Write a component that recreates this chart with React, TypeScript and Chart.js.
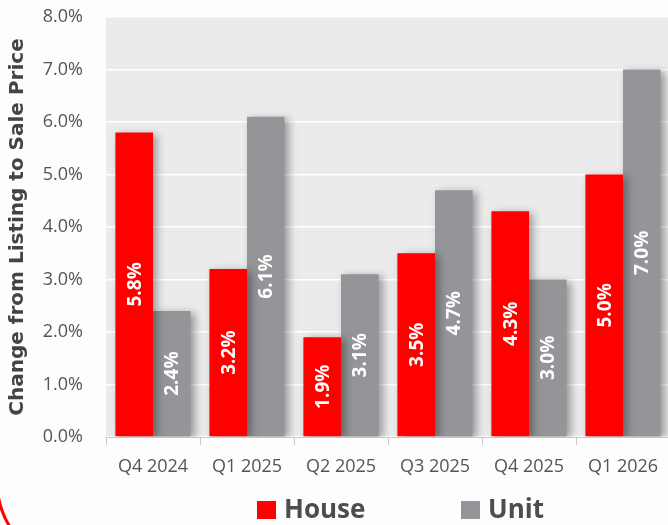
import React, { useEffect, useRef } from "react";
import { Chart, registerables } from "chart.js";

Chart.register(...registerables);

const categories = ["Q4 2024", "Q1 2025", "Q2 2025", "Q3 2025", "Q4 2025", "Q1 2026"];
const houseValues = [5.8, 3.2, 1.9, 3.5, 4.3, 5.0];
const unitValues = [2.4, 6.1, 3.1, 4.7, 3.0, 7.0];
const seriesNames = ["House", "Unit"];
const seriesColors = ["#ff0000", "#939598"];
const yTicks = [0, 1, 2, 3, 4, 5, 6, 7, 8];
const yTitle = "Change from Listing to Sale Price";

const FONT = "'Open Sans', 'DejaVu Sans', sans-serif";
const TITLE_FONT = "'DejaVu Sans', 'Open Sans', sans-serif";

const bgPlugin = {
  id: "plotBg",
  beforeDraw(chart: any) {
    const { ctx, chartArea } = chart;
    ctx.save();
    ctx.fillStyle = "#ebebeb";
    ctx.fillRect(chartArea.left, chartArea.top, chartArea.right - chartArea.left, chartArea.bottom - chartArea.top);
    ctx.restore();
  },
};

const shadowPlugin = {
  id: "barShadow",
  beforeDatasetsDraw(chart: any) {
    const ctx = chart.ctx;
    ctx.save();
    ctx.shadowColor = "rgba(0,0,0,0.35)";
    ctx.shadowBlur = 8;
    ctx.shadowOffsetX = 4;
    ctx.shadowOffsetY = 2;
  },
  afterDatasetsDraw(chart: any) {
    chart.ctx.restore();
  },
};

const labelPlugin = {
  id: "barLabels",
  afterDatasetsDraw(chart: any) {
    const ctx = chart.ctx;
    ctx.save();
    ctx.fillStyle = "#ffffff";
    ctx.font = `bold 19px ${FONT}`;
    ctx.textAlign = "center";
    ctx.textBaseline = "middle";
    chart.data.datasets.forEach((ds: any, di: number) => {
      const meta = chart.getDatasetMeta(di);
      meta.data.forEach((el: any, i: number) => {
        const v = ds.data[i];
        const cx = el.x;
        const cy = (el.y + el.base) / 2;
        ctx.save();
        ctx.translate(cx, cy);
        ctx.rotate(-Math.PI / 2);
        ctx.fillText(v.toFixed(1) + "%", 0, 1);
        ctx.restore();
      });
    });
    ctx.restore();
  },
};

const legendPlugin = {
  id: "customLegend",
  afterDraw(chart: any) {
    const ctx = chart.ctx;
    ctx.save();
    ctx.font = `bold 26px ${FONT}`;
    ctx.textBaseline = "middle";
    ctx.textAlign = "left";
    const y = 510;
    const starts = [257, 461];
    seriesNames.forEach((name, i) => {
      const x = starts[i];
      ctx.fillStyle = seriesColors[i];
      ctx.fillRect(x, y - 9, 19, 18);
      ctx.fillStyle = "#4d4d4d";
      ctx.fillText(name, x + 27, y + 1);
    });
    ctx.restore();
  },
};

export default function App() {
  const ref = useRef<HTMLCanvasElement | null>(null);
  useEffect(() => {
    if (!ref.current) return;
    const chart = new Chart(ref.current, {
      type: "bar",
      data: {
        labels: categories,
        datasets: [
          { label: seriesNames[0], data: houseValues, backgroundColor: seriesColors[0], categoryPercentage: 0.8, barPercentage: 1 },
          { label: seriesNames[1], data: unitValues, backgroundColor: seriesColors[1], categoryPercentage: 0.8, barPercentage: 1 },
        ],
      },
      options: {
        animation: false,
        responsive: false,
        devicePixelRatio: 1,
        layout: { padding: { top: 17, right: 2, bottom: 0, left: 0 } },
        plugins: {
          legend: { display: false },
          tooltip: { enabled: false },
        },
        scales: {
          x: {
            grid: { drawOnChartArea: false, tickLength: 8, color: "#c8c8c8" },
            border: { color: "#c8c8c8", width: 1 },
            ticks: { color: "#555555", font: { family: FONT, size: 18 }, padding: 11, maxRotation: 0 },
            afterFit(scale: any) {
              scale.height = 88;
            },
          },
          y: {
            min: 0,
            max: 8,
            afterBuildTicks(scale: any) {
              scale.ticks = yTicks.map((v) => ({ value: v }));
            },
            grid: { color: "#ffffff", lineWidth: 1.5, drawTicks: true, tickLength: 23, tickColor: "rgba(0,0,0,0)" },
            border: { display: false },
            ticks: {
              color: "#555555",
              font: { family: FONT, size: 18 },
              padding: 0,
              callback: (v: any) => Number(v).toFixed(1) + "%",
            },
            title: {
              display: true,
              text: yTitle,
              color: "#444444",
              font: { family: TITLE_FONT, size: 20, weight: "bold" },
              padding: { top: 6, bottom: 0 },
            },
            afterFit(scale: any) {
              scale.width = 106;
            },
          },
        },
      },
      plugins: [bgPlugin, shadowPlugin, labelPlugin, legendPlugin],
    });
    return () => chart.destroy();
  }, []);

  return (
    <div style={{ position: "fixed", left: 0, top: 0, width: 668, height: 525, overflow: "hidden", background: "#fdfdfd" }}>
      <canvas ref={ref} width={672} height={525} style={{ display: "block" }} />
      <svg width={40} height={40} style={{ position: "absolute", left: 0, top: 485 }}>
        <path d="M -2 10 Q 1 28 10 42" stroke="#ff0000" strokeWidth={3} fill="none" />
      </svg>
    </div>
  );
}
